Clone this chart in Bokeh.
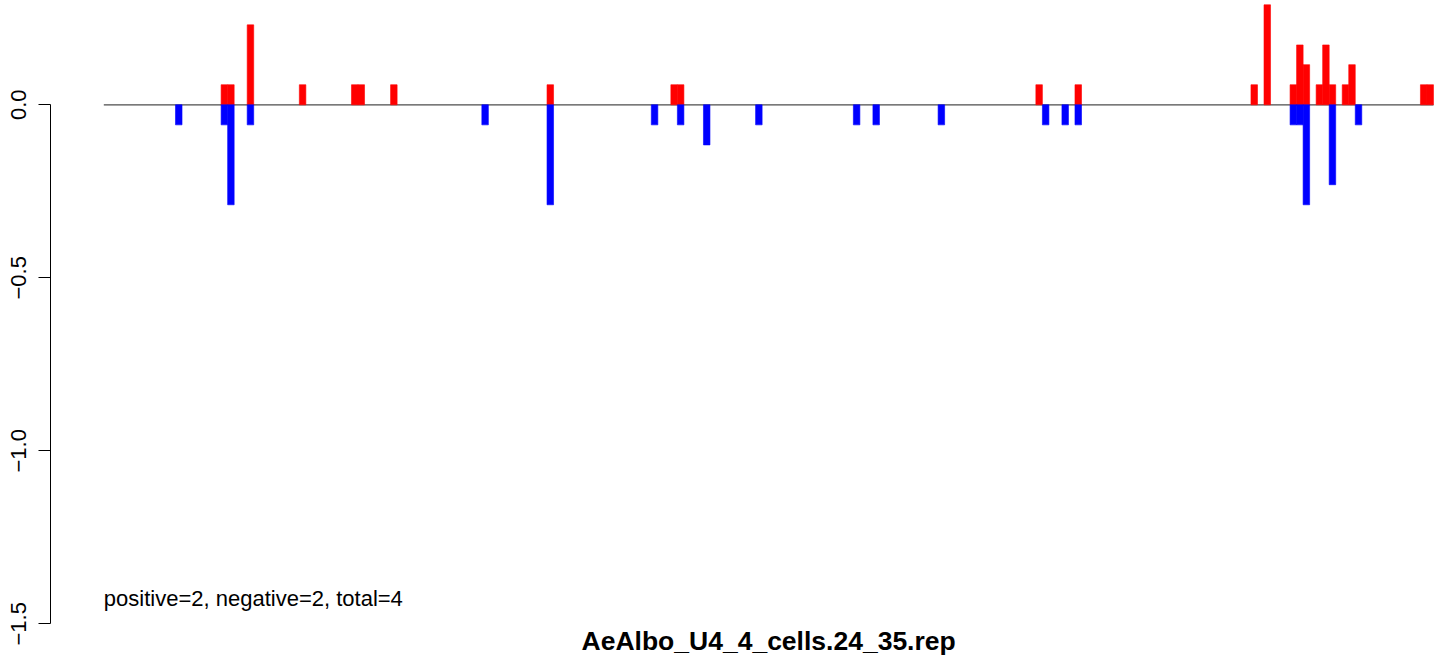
from bokeh.plotting import figure
from bokeh.models import Range1d, FixedTicker, ColumnDataSource
from bokeh.core.properties import value
from bokeh.embed import file_html
from bokeh.resources import INLINE

# ---- data (bin index along the sequence, value per bin) ----
n_bins = 204
pos_bin = [18, 19, 22, 30, 38, 39, 44, 68, 87, 88, 143, 149, 176, 178,
           182, 183, 184, 186, 187, 188, 190, 191, 202, 203]
pos_val = [0.058, 0.058, 0.231, 0.058, 0.058, 0.058, 0.058, 0.058, 0.058, 0.058,
           0.058, 0.058, 0.058, 0.289, 0.058, 0.173, 0.116, 0.058, 0.173, 0.058,
           0.058, 0.116, 0.058, 0.058]
neg_bin = [11, 18, 19, 22, 58, 68, 84, 88, 92, 100, 115, 118, 128, 144, 147,
           149, 182, 183, 184, 188, 192]
neg_val = [-0.058, -0.058, -0.289, -0.058, -0.058, -0.289, -0.058, -0.058, -0.116,
           -0.058, -0.058, -0.058, -0.058, -0.058, -0.058, -0.058, -0.058, -0.058,
           -0.289, -0.231, -0.058]
y_ticks = [0.0, -0.5, -1.0, -1.5]
y_tick_labels = ["0.0", "\u22120.5", "\u22121.0", "\u22121.5"]
title_text = "AeAlbo_U4_4_cells.24_35.rep"
note_text = "positive=2, negative=2, total=4"

FONT = "Liberation Sans"

# ---- layout geometry (page origin at figure origin) ----
W, H = 1452, 656
frame_left = 50
px_per_bin = 6.518
bin0_px = 103.3
x_start = (frame_left - bin0_px) / px_per_bin
x_end = (W - bin0_px) / px_per_bin
px_per_unit = 346.0
zero_px = 104.3
y_end = zero_px / px_per_unit
y_start = (zero_px - H) / px_per_unit

p = figure(width=W, height=H, output_backend="svg", toolbar_location=None,
           x_range=Range1d(x_start, x_end), y_range=Range1d(y_start, y_end),
           min_border_left=frame_left, min_border_right=0, min_border_top=0,
           min_border_bottom=0, x_axis_location=None)
p.xgrid.visible = False
p.ygrid.visible = False
p.outline_line_color = None
p.background_fill_color = "white"
p.border_fill_color = "white"

ax = p.yaxis[0]
ax.ticker = FixedTicker(ticks=y_ticks)
ax.major_label_overrides = {t: l for t, l in zip(y_ticks, y_tick_labels)}
ax.bounds = (min(y_ticks), max(y_ticks))
ax.axis_line_color = "black"
ax.axis_line_width = 1
ax.major_tick_line_color = "black"
ax.major_tick_out = 12
ax.major_tick_in = 0
ax.minor_tick_line_color = None
ax.major_label_orientation = "vertical"
ax.major_label_standoff = 12
ax.major_label_text_font = FONT
ax.major_label_text_font_size = "22px"
ax.major_label_text_color = "black"

# zero line
p.line(x=[0, n_bins], y=[0, 0], line_color="#4d4d4d", line_width=1.2)

pos_src = ColumnDataSource(dict(left=pos_bin, right=[b + 1 for b in pos_bin],
                                top=pos_val, bottom=[0] * len(pos_bin)))
neg_src = ColumnDataSource(dict(left=neg_bin, right=[b + 1 for b in neg_bin],
                                top=[0] * len(neg_bin), bottom=neg_val))
p.quad(left="left", right="right", top="top", bottom="bottom", source=pos_src,
       fill_color="#ff0000", line_color="#ff0000", line_width=0.6)
p.quad(left="left", right="right", top="top", bottom="bottom", source=neg_src,
       fill_color="#0000ff", line_color="#0000ff", line_width=0.6)

# annotation inside plot
p.text(x=[0], y=[(zero_px - 598) / px_per_unit], text=[note_text],
       text_font=value(FONT), text_font_size="22px", text_color="black",
       text_align="left", text_baseline="middle")

# bottom title
p.text(x=[n_bins / 2], y=[(zero_px - 640) / px_per_unit], text=[title_text],
       text_font=value(FONT), text_font_size="26.5px", text_font_style="bold",
       text_color="black", text_align="center", text_baseline="middle")

open("out.html", "w").write(file_html(p, INLINE))
